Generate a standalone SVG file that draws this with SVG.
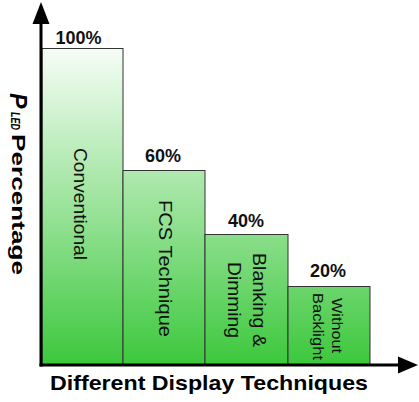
<svg xmlns="http://www.w3.org/2000/svg" width="419" height="402" viewBox="0 0 419 402">
<defs>
<linearGradient id="g" gradientUnits="userSpaceOnUse" x1="0" y1="48" x2="0" y2="364">
<stop offset="0" stop-color="#f6fdf6"/>
<stop offset="0.5" stop-color="#9be39b"/>
<stop offset="1" stop-color="#3dc83d"/>
</linearGradient>
<style>
.bar{fill:url(#g);stroke:#333;stroke-width:1}
.pct{font-family:"Liberation Sans",Arial,sans-serif;font-weight:bold;font-size:18px;fill:#111;text-anchor:middle}
.lbl{font-family:"Liberation Sans",Arial,sans-serif;font-size:18.5px;fill:#111}
.sm{font-family:"Liberation Sans",Arial,sans-serif;font-size:15px;fill:#111}
.ax{font-family:"Liberation Sans",Arial,sans-serif;font-weight:bold;fill:#000}
</style>
</defs>
<rect width="419" height="402" fill="#fff"/>
<g id="bar-conventional">
<rect class="bar" x="42" y="48.5" width="81" height="316"/>
<text class="pct" x="78.5" y="44">100%</text>
<text class="lbl" transform="translate(74,148) rotate(90)" textLength="112" lengthAdjust="spacingAndGlyphs">Conventional</text>
</g>
<g id="bar-fcs">
<rect class="bar" x="123" y="170.5" width="82" height="194"/>
<text class="pct" x="163" y="162">60%</text>
<text class="lbl" transform="translate(159,200) rotate(90)" textLength="137" lengthAdjust="spacingAndGlyphs">FCS Technique</text>
</g>
<g id="bar-blanking">
<rect class="bar" x="205" y="234.5" width="83" height="130"/>
<text class="pct" x="246" y="227">40%</text>
<text class="lbl" transform="translate(253,253) rotate(90)" textLength="94" lengthAdjust="spacingAndGlyphs">Blanking &amp;</text>
<text class="lbl" transform="translate(228,262) rotate(90)" textLength="76" lengthAdjust="spacingAndGlyphs">Dimming</text>
</g>
<g id="bar-without">
<rect class="bar" x="288" y="286.5" width="82" height="78"/>
<text class="pct" x="328" y="277">20%</text>
<text class="sm" transform="translate(332,298) rotate(90)" textLength="55" lengthAdjust="spacingAndGlyphs">Without</text>
<text class="sm" transform="translate(313,293) rotate(90)" textLength="67" lengthAdjust="spacingAndGlyphs">Backlight</text>
</g>
<g id="connectors">
<line x1="41" y1="20" x2="41" y2="366.5" stroke="#000" stroke-width="3"/>
<polygon points="41,2 32.5,24 49.5,24" fill="#000"/>
<line x1="39.5" y1="365" x2="400" y2="365" stroke="#000" stroke-width="3"/>
<polygon points="418,365 398,356.5 398,373.5" fill="#000"/>
</g>
<g id="axis-labels">
<text class="ax" x="50" y="390" font-size="21" textLength="318" lengthAdjust="spacingAndGlyphs">Different Display Techniques</text>
<text class="ax" transform="translate(10,93) rotate(90)" font-size="23" font-style="italic">P</text>
<text class="ax" transform="translate(11,112) rotate(90)" font-size="12" font-style="italic" textLength="18" lengthAdjust="spacingAndGlyphs">LED</text>
<text class="ax" transform="translate(12,134) rotate(90)" font-size="19" textLength="141" lengthAdjust="spacingAndGlyphs">Percentage</text>
</g>
</svg>
